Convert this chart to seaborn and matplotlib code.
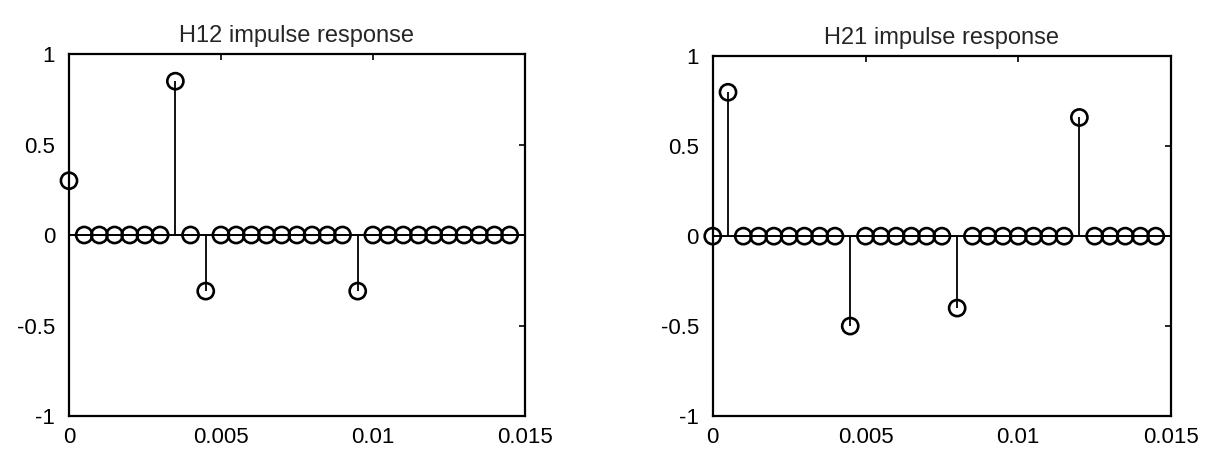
import matplotlib
matplotlib.use("Agg")
import matplotlib.pyplot as plt
import seaborn as sns
import pandas as pd

# sample times (s), 30 samples
t = [0.0, 0.0005, 0.001, 0.0015, 0.002, 0.0025, 0.003, 0.0035, 0.004, 0.0045,
     0.005, 0.0055, 0.006, 0.0065, 0.007, 0.0075, 0.008, 0.0085, 0.009, 0.0095,
     0.01, 0.0105, 0.011, 0.0115, 0.012, 0.0125, 0.013, 0.0135, 0.014, 0.0145]

h12 = [0.3, 0, 0, 0, 0, 0, 0, 0.85, 0, -0.31,
       0, 0, 0, 0, 0, 0, 0, 0, 0, -0.31,
       0, 0, 0, 0, 0, 0, 0, 0, 0, 0]

h21 = [0, 0.8, 0, 0, 0, 0, 0, 0, 0, -0.5,
       0, 0, 0, 0, 0, 0, -0.4, 0, 0, 0,
       0, 0, 0, 0, 0.66, 0, 0, 0, 0, 0]

titles = ["H12 impulse response", "H21 impulse response"]
xticks = [0, 0.005, 0.01, 0.015]
xtick_labels = ["0", "0.005", "0.01", "0.015"]
yticks = [-1, -0.5, 0, 0.5, 1]
ytick_labels = ["-1", "-0.5", "0", "0.5", "1"]

sns.set_style("white")
plt.rcParams['font.family'] = ['Liberation Sans', 'DejaVu Sans']

fig = plt.figure(figsize=(12.06, 4.53), dpi=100)
axes = [fig.add_axes([0.0572, 0.0817, 0.378, 0.799]),
        fig.add_axes([0.591, 0.0817, 0.380, 0.794])]

for ax, h, title in zip(axes, [h12, h21], titles):
    df = pd.DataFrame({'t': t, 'h': h})
    ax.axhline(0, color='black', lw=1.4, zorder=1)
    ax.vlines(df['t'], 0, df['h'], color='black', lw=1.3, zorder=2)
    sns.scatterplot(data=df, x='t', y='h', ax=ax, marker='o', s=135,
                    facecolors='none', edgecolor='black', linewidth=1.9,
                    zorder=3, legend=False, clip_on=False)
    ax.set_xlim(0, 0.015)
    ax.set_ylim(-1, 1)
    ax.set_xticks(xticks)
    ax.set_xticklabels(xtick_labels)
    ax.set_yticks(yticks)
    ax.set_yticklabels(ytick_labels)
    ax.set_xlabel('')
    ax.set_ylabel('')
    ax.tick_params(direction='in', length=4, width=1.2, labelsize=16,
                   top=True, right=True, colors='black')
    ax.tick_params(axis='y', pad=10)
    ax.tick_params(axis='x', pad=8)
    for sp in ax.spines.values():
        sp.set_visible(True)
        sp.set_color('black')
        sp.set_linewidth(1.6)
    ax.set_title(title, fontsize=17, pad=9)

plt.savefig("out.png", dpi=100)
